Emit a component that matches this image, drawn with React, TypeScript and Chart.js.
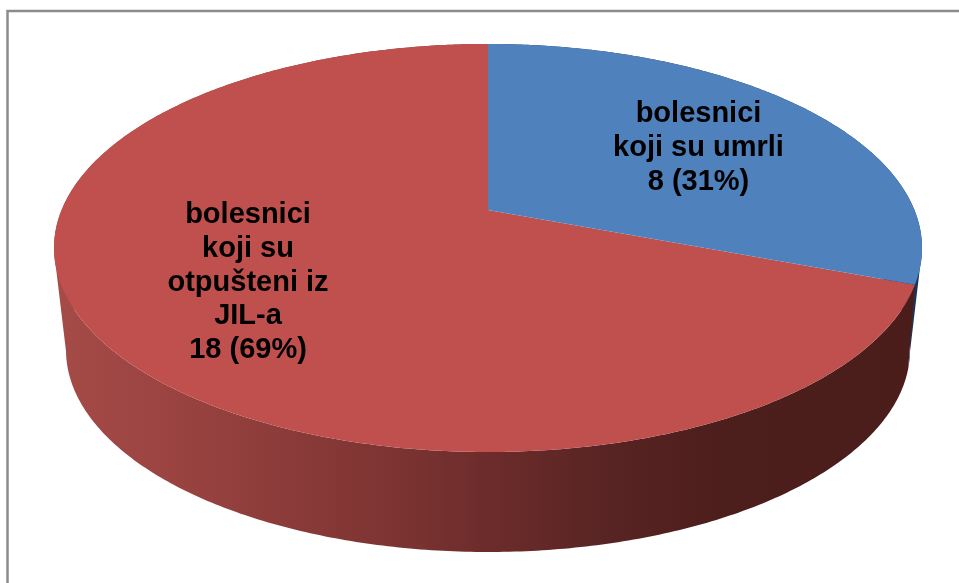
import React, { useEffect, useRef } from "react";
import { Chart, registerables } from "chart.js";

Chart.register(...registerables);

const categories = ["bolesnici koji su umrli", "bolesnici koji su otpušteni iz JIL-a"];
const values = [8, 18];
const sliceColors = ["#4f81bd", "#c0504d"];
const labelLines = [
  ["bolesnici", "koji su umrli", "8 (31%)"],
  ["bolesnici", "koji su", "otpušteni iz", "JIL-a", "18 (69%)"],
];
const sideStops = [
  [[0, "#2a4a73"], [1, "#1c3350"]],
  [[0.06, "#a54b48"], [0.2, "#984240"], [0.42, "#7b3331"], [0.51, "#6c2c2b"], [0.62, "#5a2524"], [0.75, "#4c1e1c"], [1, "#4a1d1b"]],
];

const top = { cx: 488, cy: 248, rx: 434, ry: 204, t: -0.186 };
const bottom = { cx: 488, cy: 350, rx: 422, ry: 202, t: -0.27 };
const labelPos = [
  { x: 698.5, y: 122 },
  { x: 248, y: 223 },
];
const lineHeight = 33.8;

type Ell = typeof top;

function project(e: Ell, theta: number): [number, number] {
  const x = Math.sin(theta);
  const y = -Math.cos(theta);
  const d = 1 + e.t * y;
  return [e.cx + (e.rx * x * Math.sqrt(1 - e.t * e.t)) / d, e.cy + (e.ry * (y + e.t)) / d];
}

const solidPiePlugin = {
  id: "solidPie",
  beforeDraw(chart: any) {
    const ctx = chart.ctx;
    ctx.save();
    ctx.fillStyle = "#ffffff";
    ctx.fillRect(0, 0, chart.width, chart.height);
    ctx.strokeStyle = "#8c8c8c";
    ctx.lineWidth = 2.5;
    ctx.beginPath();
    ctx.moveTo(7.5, chart.height + 5);
    ctx.lineTo(7.5, 11);
    ctx.lineTo(chart.width + 5, 11);
    ctx.stroke();
    ctx.restore();
  },
  beforeDatasetsDraw(chart: any) {
    const ctx = chart.ctx;
    const arcs = chart.getDatasetMeta(0).data;
    const range = (el: any) => {
      const a = el.startAngle + Math.PI / 2;
      const b = el.endAngle + Math.PI / 2;
      const n = Math.max(8, Math.ceil((b - a) / 0.01));
      return Array.from({ length: n + 1 }, (_, i) => a + ((b - a) * i) / n);
    };
    ctx.save();
    // side wall: every small quad goes into one path with one winding, so no seams show
    arcs.forEach((el: any, idx: number) => {
      const g = ctx.createLinearGradient(0, 0, chart.width, 0);
      sideStops[idx].forEach((s: any) => g.addColorStop(s[0], s[1]));
      ctx.fillStyle = g;
      const th = range(el);
      ctx.beginPath();
      for (let i = 0; i < th.length - 1; i++) {
        let p = [project(top, th[i]), project(top, th[i + 1]), project(bottom, th[i + 1]), project(bottom, th[i])];
        let area = 0;
        p.forEach((q, k) => {
          const r = p[(k + 1) % 4];
          area += q[0] * r[1] - r[0] * q[1];
        });
        if (area < 0) p = p.reverse();
        p.forEach((q, k) => (k ? ctx.lineTo(q[0], q[1]) : ctx.moveTo(q[0], q[1])));
        ctx.closePath();
      }
      ctx.fill("nonzero");
    });
    // top face
    const order = [1, 0];
    order.forEach((idx) => {
      const el = arcs[idx];
      ctx.fillStyle = el.options.backgroundColor;
      ctx.beginPath();
      ctx.moveTo(top.cx, top.cy + top.ry * top.t);
      range(el).forEach((t) => {
        const q = project(top, t);
        ctx.lineTo(q[0], q[1]);
      });
      ctx.closePath();
      ctx.fill();
    });
    // labels
    ctx.fillStyle = "#000000";
    ctx.textAlign = "center";
    ctx.textBaseline = "alphabetic";
    ctx.font = 'bold 29px "Liberation Sans"';
    labelLines.forEach((lines, idx) => {
      lines.forEach((line, i) => ctx.fillText(line, labelPos[idx].x, labelPos[idx].y + i * lineHeight));
    });
    ctx.restore();
    return false;
  },
};

export default function App() {
  const ref = useRef<HTMLCanvasElement>(null);
  useEffect(() => {
    const chart = new Chart(ref.current as HTMLCanvasElement, {
      type: "pie",
      data: {
        labels: categories,
        datasets: [{ data: values, backgroundColor: sliceColors, borderWidth: 0 }],
      },
      options: {
        animation: false,
        responsive: false,
        plugins: { legend: { display: false }, tooltip: { enabled: false } },
      },
      plugins: [solidPiePlugin],
    } as any);
    return () => chart.destroy();
  }, []);
  return (
    <div style={{ position: "fixed", left: 0, top: 0, width: 959, height: 583, overflow: "hidden" }}>
      <canvas ref={ref} width={959} height={583} style={{ display: "block" }} />
    </div>
  );
}
